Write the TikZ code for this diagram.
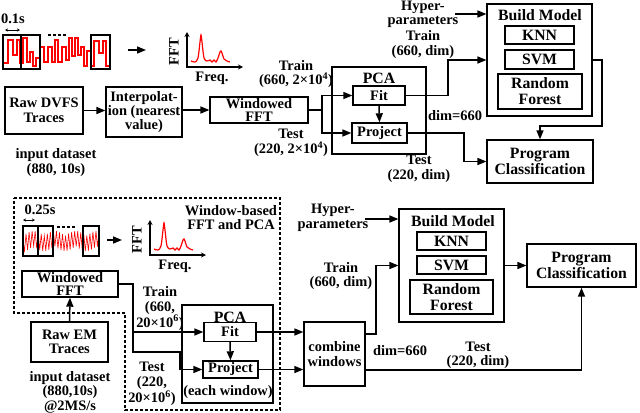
\documentclass[tikz,border=0pt]{standalone}
\usepackage{fontspec}
\setmainfont{Liberation Serif}
\usetikzlibrary{arrows.meta}
\newcommand\ft{\fontsize{14.5}{14.5}\selectfont\bfseries}
\newcommand\fb{\fontsize{15.8}{16}\selectfont\bfseries}
\newcommand\myspec{%
  \draw[line width=1.3bp,{Stealth[length=5bp,width=5bp]}-{Stealth[length=5bp,width=5bp]}] (187,32) -- (187,67) -- (243,67);
  \draw[red,line width=1.2bp] plot[smooth,tension=0.5] coordinates {(191,61)(195,62)(198,58)(200,42)(201,35)(202,42)(204,58)(207,61)(210,60)(212,62)(214,60)(216,62)(218,58)(220,52)(221,51)(222,53)(224,59)(227,61)(230,62)};
  \node[lbl,rotate=90] at (174,52) {FFT};
  \node[lbl] at (212,78) {Freq.};
}
\begin{document}
\begin{tikzpicture}[x=1bp,y=-1bp,
  box/.style={draw,line width=1.5bp,inner sep=0pt,align=center,font=\ft},
  bigbox/.style={box,font=\fb},
  lbl/.style={inner sep=0pt,align=center,font=\ft},
  arr/.style={line width=1.5bp,-{Triangle[length=9bp,width=7bp]}},
  win/.style={line width=1.3bp},
  dots/.style={line width=1.5bp,dash pattern=on 3bp off 2bp},
  tiny/.style={line width=0.8bp,{Stealth[length=3bp,width=3bp]}-{Stealth[length=3bp,width=3bp]}}]
\useasboundingbox (0,0) rectangle (640,412);

% ---------------- top illustration ----------------
\node[lbl] at (13,19) {0.1s};
\draw[tiny] (5,30) -- (20,30);
\draw[red,line width=1.3bp] (3,63) -- (8,63) -- (8,40) -- (13,40) -- (13,55) -- (17,55) -- (17,40) -- (20,40) -- (20,63) -- (23,63) -- (23,38) -- (27,38) -- (27,62) -- (30,62) -- (30,52) -- (33,52) -- (33,66) -- (36,66) -- (36,58) -- (40,58) -- (40,47) -- (44,47) -- (44,62) -- (48,62) -- (48,47) -- (52,47) -- (52,62) -- (55,62) -- (55,40) -- (58,40) -- (58,62) -- (62,62) -- (62,47) -- (66,47) -- (66,60) -- (69,60) -- (69,38) -- (72,38) -- (72,56) -- (75,56) -- (75,38) -- (78,38) -- (78,55) -- (81,55) -- (81,47) -- (84,47) -- (84,66) -- (87,66) -- (87,51) -- (91,51) -- (91,66) -- (94,66) -- (94,41) -- (99,41) -- (99,53) -- (103,53) -- (103,41) -- (106,41) -- (106,66) -- (110,66);
\draw[win] (3,35) rectangle (21,69);
\draw[win] (21,35) rectangle (40,69);
\draw[win] (91,35) rectangle (110,69);
\draw[dots] (48,35) -- (68,35);
\draw[arr] (128,50) -- (146,50);
\myspec

% ---------------- top flow ----------------
\node[box,minimum width=78,minimum height=47] (rawA) at (44,110.5) {Raw DVFS\\Traces};
\node[box,minimum width=76,minimum height=50] (interp) at (144,112) {Interpolat-\\ion (nearest\\value)};
\node[box,minimum width=98,minimum height=26,font=\fontsize{14.5}{13}\selectfont\bfseries] (wfftA) at (259,110) {Windowed\\FFT};
\node[lbl] at (56,162.5) {input dataset\\(880, 10s)};
\node[lbl] at (296,74) {Train\\(660, 2×10\textsuperscript{4})};
\node[lbl] at (291,143) {Test\\(220, 2×10\textsuperscript{4})};

\node[box,minimum width=94,minimum height=87] (pcaA) at (379,110.5) {};
\node[bigbox,draw=none] at (379,78) {PCA};
\node[box,minimum width=52,minimum height=19] (fitA) at (379,95.5) {Fit};
\node[box,minimum width=55,minimum height=20] (projA) at (379.5,133) {Project};

\node[box,minimum width=105,minimum height=112] (bmA) at (539.5,60) {};
\node[lbl,font=\fb] at (540,15) {Build Model};
\node[bigbox,minimum width=69,minimum height=18] (knnA) at (539.5,35) {KNN};
\node[bigbox,minimum width=69,minimum height=19] (svmA) at (539.5,59.5) {SVM};
\node[bigbox,minimum width=84,minimum height=35] (rfA) at (540,91.5) {Random\\Forest};
\node[bigbox,minimum width=106,minimum height=43] (progA) at (540,161.5) {Program\\Classification};

\node[lbl] (hypA) at (423,14.5) {Hyper-\\parameters};
\node[lbl] at (423,44.5) {Train\\(660, dim)};
\node[lbl] at (455,116) {dim=660};
\node[lbl] at (419,169) {Test\\(220, dim)};

\coordinate (jA) at (322,110);
\coordinate (tA) at (448,60);
\coordinate (dA) at (464,161.5);
\coordinate (eA) at (602,126);
\coordinate (hA) at (455,14);
\draw[arr] (rawA.east) -- (rawA.east -| interp.west);
\draw[arr] (interp.west |- wfftA.west) ++(76,0) -- (wfftA.west);
\draw[line width=1.5bp] (wfftA.east) -- (jA);
\draw[arr] (jA) |- (fitA.west);
\draw[arr] (jA) |- (projA.west);
\draw[arr] (fitA.south) -- (projA.north);
\draw[arr] (fitA.east) -| (tA) -- (tA -| bmA.west);
\draw[arr] (projA.east) -| (dA) -- (progA.west);
\draw[arr] (bmA.east) -| (eA) -| (progA.north);
\draw[arr] (hA) -- (hA -| bmA.west);

% ---------------- bottom dashed region ----------------
\draw[line width=1.3bp,dash pattern=on 3bp off 2bp] (14,198) -- (280,198) -- (280,410) -- (125,410) -- (125,313) -- (14,313) -- cycle;
\node[lbl] at (40,210) {0.25s};
\draw[tiny] (23,220) -- (35,220);
\draw[red,line width=0.6bp] (23,241) \foreach \i in {1,...,50} { -- ({23+\i*1.52},{241+(2*mod(\i,2)-1)*(5+5*abs(sin(\i*77)))}) };
\draw[win] (23,226) rectangle (38,256);
\draw[win] (38,226) rectangle (53,256);
\draw[win] (83,226) rectangle (99,256);
\draw[dots] (57,227) -- (77,227);
\draw[arr] (107,240) -- (122,240);
\begin{scope}[shift={(-37,188)}]
\myspec
\end{scope}
\node[lbl] at (231,217.5) {Window-based\\FFT and PCA};

% ---------------- bottom flow ----------------
\node[box,minimum width=96,minimum height=26,font=\fontsize{14.5}{13}\selectfont\bfseries] (wfftB) at (70,284) {Windowed\\FFT};
\node[box,minimum width=77,minimum height=40] (rawB) at (69.5,342) {Raw EM\\Traces};
\node[lbl] at (70,392) {input dataset\\(880,10s)\\@2MS/s};
\node[lbl] at (160,308.5) {Train\\(660,\\20×10\textsuperscript{6})};
\node[lbl] at (152,384) {Test\\(220,\\20×10\textsuperscript{6})};

\node[box,minimum width=91,minimum height=98] (pcaB) at (227.5,354) {};
\node[bigbox,draw=none] at (230,317) {PCA};
\node[box,minimum width=52,minimum height=19] (fitB) at (230,332) {Fit};
\node[box,minimum width=55,minimum height=17] (projB) at (230.5,369.5) {Project};
\node[lbl] at (228,392) {(each window)};

\node[box,minimum width=61,minimum height=64] (cw) at (334.5,354) {combine\\windows};

\node[box,minimum width=105,minimum height=113] (bmB) at (451.5,265.5) {};
\node[lbl,font=\fb] at (453,221) {Build Model};
\node[bigbox,minimum width=69,minimum height=18] (knnB) at (451.5,241) {KNN};
\node[bigbox,minimum width=69,minimum height=18] (svmB) at (451.5,265) {SVM};
\node[bigbox,minimum width=83,minimum height=34] (rfB) at (451.5,297) {Random\\Forest};
\node[bigbox,minimum width=109,minimum height=43] (progB) at (581.5,265.5) {Program\\Classification};

\node[lbl] (hypB) at (333,218) {Hyper-\\parameters};
\node[lbl] at (341,276) {Train\\(660, dim)};
\node[lbl] at (400,351) {dim=660};
\node[lbl] at (478,355.5) {Test\\(220, dim)};

\coordinate (jB) at (133,332);
\coordinate (kB) at (180,352);
\coordinate (tB) at (376,265.5);
\coordinate (hB) at (365,219);
\draw[arr] (rawB.north) -- (wfftB.south);
\draw[arr] (wfftB.east) -| (jB) -- (jB -| fitB.west);
\draw[arr] (jB) |- (kB) |- (projB.west);
\draw[arr] (fitB.south) -- (projB.north);
\draw[arr] (fitB.east) -- (fitB.east -| cw.west);
\draw[arr] (projB.east) -- (projB.east -| cw.west);
\draw[arr] ([yshift=20bp]cw.east) -| (tB) -- (bmB.west);
\draw[arr] (bmB.east) -- (progB.west);
\draw[arr] ([yshift=-16bp]cw.east) -| (progB.south);
\draw[arr] (hB) -- (hB -| bmB.west);
\end{tikzpicture}
\end{document}
